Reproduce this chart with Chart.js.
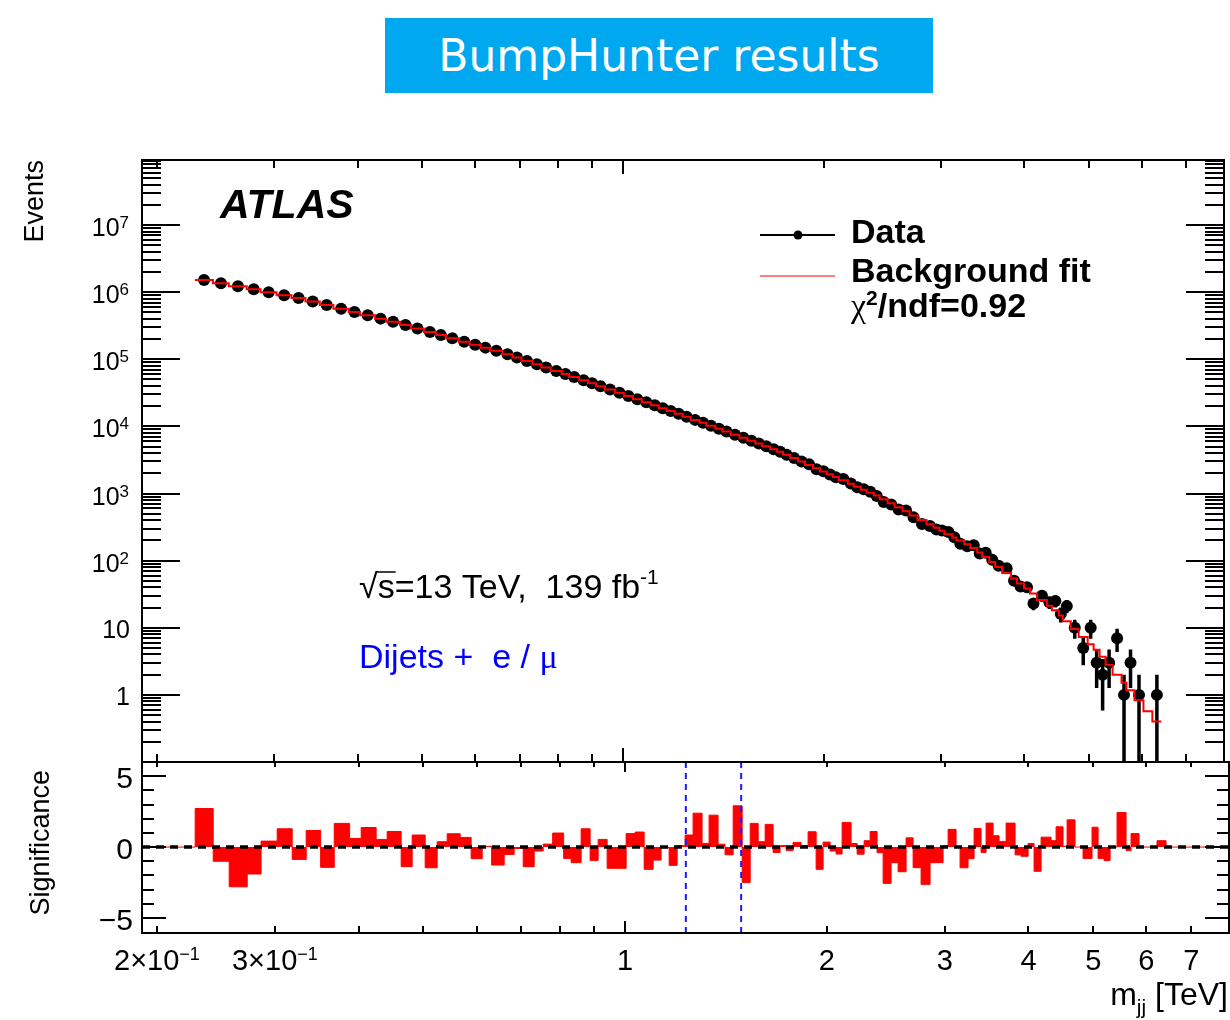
<!DOCTYPE html>
<html>
<head>
<meta charset="utf-8">
<script src="https://cdn.jsdelivr.net/npm/chart.js@4.4.1/dist/chart.umd.min.js"></script>
<style>
  html, body { margin: 0; padding: 0; background: #fff; }
  #page { position: relative; width: 1230px; height: 1020px; overflow: hidden; }
  #title { position: absolute; left: 385px; top: 18px; width: 548px; height: 75px; background: #00a8ef;
           color: #fff; font: 44px 'DejaVu Sans'; display: flex; align-items: center; justify-content: center; }
  canvas { position: absolute; left: 0; }
  #top { top: 100px; }
  #bottom { top: 750px; }
</style>
</head>
<body>
<div id="page">
  <div id="title">BumpHunter results</div>
  <canvas id="top" width="1230" height="680"></canvas>
  <canvas id="bottom" width="1230" height="270"></canvas>
</div>
<script>
// m_jj bin edges [TeV]
const binEdges = [
  0.2281, 0.2427, 0.2564, 0.2728, 0.2861, 0.3024, 0.3184, 0.3341, 0.3511, 0.3679,
  0.3879, 0.4036, 0.4249, 0.4413, 0.4631, 0.4809, 0.5029, 0.5241, 0.5424, 0.5672,
  0.5890, 0.6118, 0.6320, 0.6598, 0.6828, 0.7044, 0.7315, 0.7545, 0.7795, 0.8095,
  0.8306, 0.8596, 0.8866, 0.9114, 0.9400, 0.9729, 1.0034, 1.0349, 1.0675, 1.1010,
  1.1315, 1.1633, 1.1957, 1.2289, 1.2631, 1.3026, 1.3345, 1.3763, 1.4097, 1.4497,
  1.4952, 1.5370, 1.5798, 1.6181, 1.6630, 1.7034, 1.7390, 1.7812, 1.8309, 1.8755,
  1.9280, 1.9748, 2.0230, 2.0650, 2.1081, 2.1744, 2.2198, 2.2738, 2.3213, 2.3775,
  2.4273, 2.4946, 2.5556, 2.6267, 2.6909, 2.7657, 2.8524, 2.9222, 2.9828, 3.0347,
  3.1190, 3.1623, 3.2502, 3.3183, 3.3988, 3.4581, 3.5425, 3.6160, 3.7044, 3.8206,
  3.8999, 3.9953, 4.0781, 4.1777, 4.3236, 4.3988, 4.5054, 4.5680, 4.6948, 4.8259,
  4.9774, 5.0816, 5.1869, 5.2955, 5.4240, 5.5948, 5.6916, 5.8507, 6.0347, 6.2230,
  6.4193
];

// observed events per bin (null = empty bin)
const dataEvents = [
  1520000, 1360000, 1220000, 1100000, 995000, 900000, 818000, 727000, 644000, 566000,
  507000, 451000, 403000, 362000, 324000, 288000, 255000, 230000, 206000, 183000,
  165000, 149000, 134000, 119000, 106000, 94500, 84100, 75300, 67100, 60400,
  54500, 48600, 43900, 39600, 35400, 31600, 28300, 25400, 22800, 20600,
  18700, 17000, 15400, 13900, 12500, 11300, 10200, 9220, 8390, 7530,
  6760, 6110, 5550, 5050, 4580, 4200, 3765, 3389, 3005, 2726,
  2303, 2146, 1918, 1739, 1639, 1409, 1242, 1155, 1065, 921,
  747, 685, 579, 557, 441, 351, 327, 290, 281, 268,
  223, 178, 164, 170, 128, 131, 103, 84, 77, 50,
  41, 40, 23, 30, 24, 25, 16, 21, 10, 5,
  10, 3, 2, 3, 7, 1, 3, 1, null, 1
];

// background fit per bin
const bkgFit = [
  1520000, 1360000, 1220000, 1100000, 995000, 900000, 818000, 727000, 644000, 566000,
  507000, 451000, 403000, 362000, 324000, 288000, 255000, 230000, 206000, 183000,
  165000, 149000, 134000, 119000, 106000, 94500, 84100, 75300, 67100, 60400,
  54500, 48600, 43900, 39600, 35400, 31600, 28300, 25400, 22800, 20600,
  18700, 17000, 15400, 13900, 12500, 11300, 10200, 9220, 8390, 7530,
  6760, 6110, 5550, 5050, 4580, 4190, 3780, 3370, 3000, 2670,
  2380, 2130, 1930, 1760, 1570, 1400, 1260, 1140, 1030, 933,
  820, 714, 622, 542, 472, 404, 348, 309, 279, 248,
  222, 199, 175, 154, 132, 113, 95.5, 80.7, 65.6, 54,
  45.6, 38.5, 32.5, 25.9, 21.3, 18.2, 15.2, 12.5, 9.6, 7.3,
  5.7, 4.7, 3.7, 2.8, 2.0, 1.52, 1.17, 0.83, 0.57, 0.40
];

// significance per bin
const significance = [
  2.72, -1.0, -2.8, -1.9, 0.42, 1.29, -0.87, 1.17, -1.43, 1.67,
  0.61, 1.38, 0.54, 1.1, -1.38, 0.85, -1.46, 0.38, 0.94, 0.68,
  -0.82, 0.05, -1.27, -0.52, -0.1, -1.38, -0.28, 0.21, 0.99, -0.8,
  -1.1, 1.29, -0.94, 0.54, -1.5, -1.5, 0.95, 1.06, -1.57, -0.92,
  -0.05, -1.29, 0.1, 0.85, 2.39, 0.26, 2.25, 0.2, -0.54, 2.91,
  -2.49, 1.67, 0.38, 1.6, -0.38, 0.1, -0.25, 0.33, 0.1, 1.08,
  -1.57, 0.35, -0.28, -0.49, 1.74, 0.25, -0.5, 0.45, 1.1, -0.4,
  -2.56, -1.1, -1.74, 0.65, -1.45, -2.63, -1.1, -1.1, 0.1, 1.25,
  0.05, -1.46, -0.82, 1.31, -0.38, 1.69, 0.8, 0.4, 1.69, -0.55,
  -0.65, 0.25, -1.71, 0.7, 0.45, 1.43, 0.05, 1.92, 0, -0.8,
  1.4, -0.8, -0.95, 0, 2.44, -0.25, 0.95, 0, 0, 0.45
];

// most discrepant interval found by BumpHunter [TeV]
const bumpWindow = [1.232, 1.490];

// axis ticks and labels
const xTicks = [0.2, 0.3, 0.4, 0.5, 0.6, 0.7, 0.8, 0.9, 1, 2, 3, 4, 5, 6, 7];
const xTickLabels = [[0.2, '2×10', '\u22121'], [0.3, '3×10', '\u22121'], [1, '1'], [2, '2'],
                     [3, '3'], [4, '4'], [5, '5'], [6, '6'], [7, '7']];
const yDecades = [1, 10, 1e2, 1e3, 1e4, 1e5, 1e6, 1e7];
const sigTickLabels = [5, 0, -5];

const X_MIN = 0.19, X_MAX = 7.97;
const Y_MIN = 0.1, Y_MAX = 9.3e7;
const SIG_MIN = -6.06, SIG_MAX = 6.0;
const SANS = 'Liberation Sans', SERIF = 'Liberation Serif';

// ---- datasets built from the arrays ----
const last = binEdges.length - 1;
const centers = significance.map((s, i) => (binEdges[i] + binEdges[i + 1]) / 2);

const fitSteps = bkgFit.map((v, i) => ({x: binEdges[i], y: v}));
fitSteps.push({x: binEdges[last], y: bkgFit[bkgFit.length - 1]});

const points = [], errBars = [];
dataEvents.forEach((n, i) => {
  if (!n) return;
  const e = Math.sqrt(n);
  points.push({x: centers[i], y: n});
  errBars.push({x: centers[i], y: Math.max(n - e, 0.01)}, {x: centers[i], y: n + e}, {x: centers[i], y: null});
});

const sigSteps = [{x: X_MIN, y: 0}];
significance.forEach((s, i) => sigSteps.push({x: binEdges[i], y: s}));
sigSteps.push({x: binEdges[last], y: 0}, {x: X_MAX, y: 0});

const windowLines = [];
bumpWindow.forEach(b => windowLines.push({x: b, y: SIG_MIN}, {x: b, y: SIG_MAX}, {x: b, y: null}));

// ---- drawing helpers ----
function seg(ctx, x1, y1, x2, y2) {
  ctx.beginPath(); ctx.moveTo(x1, y1); ctx.lineTo(x2, y2); ctx.stroke();
}
// pieces: [text, font, dy]
function run(ctx, pieces, x, y, align, color) {
  let w = 0;
  pieces.forEach(p => { ctx.font = p[1]; w += ctx.measureText(p[0]).width; });
  let cx = align === 'center' ? x - w / 2 : align === 'right' ? x - w : x;
  ctx.textAlign = 'left'; ctx.textBaseline = 'alphabetic'; ctx.fillStyle = color || '#000';
  pieces.forEach(p => {
    ctx.font = p[1]; ctx.fillText(p[0], cx, y + (p[2] || 0));
    cx += ctx.measureText(p[0]).width;
  });
  return w;
}
function vtitle(ctx, s, x, y, font) {
  ctx.save(); ctx.translate(x, y); ctx.rotate(-Math.PI / 2);
  ctx.font = font; ctx.fillStyle = '#000'; ctx.textAlign = 'right'; ctx.textBaseline = 'alphabetic';
  ctx.fillText(s, 0, 0); ctx.restore();
}
function xTicksDraw(ctx, a, xs, topLen, botLen) {
  xTicks.forEach(v => {
    const px = Math.round(xs.getPixelForValue(v));
    seg(ctx, px, a.top, px, a.top + topLen(v));
    seg(ctx, px, a.bottom - botLen(v), px, a.bottom);
  });
}

const topDecor = {
  id: 'topDecor',
  afterDraw(chart) {
    const {ctx, chartArea: a, scales: {x, y}} = chart;
    ctx.save();
    ctx.strokeStyle = '#000'; ctx.lineWidth = 2;
    for (let k = -1; k <= 7; k++) {
      for (let d = 1; d <= 9; d++) {
        const v = d * Math.pow(10, k);
        if (v < Y_MIN || v > Y_MAX) continue;
        const py = Math.round(y.getPixelForValue(v));
        const len = d === 1 ? 38 : 19;
        seg(ctx, a.left, py, a.left + len, py);
        seg(ctx, a.right - len, py, a.right, py);
      }
    }
    xTicksDraw(ctx, a, x, v => v === 1 ? 14 : 8, v => v === 1 ? 14 : 8);
    ctx.strokeRect(a.left, a.top, a.right - a.left, a.bottom - a.top);

    // y tick labels
    yDecades.forEach(v => {
      const py = y.getPixelForValue(v);
      const k = Math.round(Math.log10(v));
      if (k >= 2) run(ctx, [['10', '25px ' + SANS], [String(k), '17px ' + SANS, -8]], 129, py + 11, 'right');
      else run(ctx, [[k === 1 ? '10' : '1', '25px ' + SANS]], 130, py + 10, 'right');
    });
    vtitle(ctx, 'Events', 43, a.top, '27px ' + SANS);

    run(ctx, [['ATLAS', 'italic bold 41px ' + SANS]], 220, 118, 'left');

    // legend
    ctx.lineWidth = 2; ctx.strokeStyle = '#000';
    seg(ctx, 760, 135, 835, 135);
    ctx.beginPath(); ctx.arc(798, 135, 4.5, 0, 2 * Math.PI); ctx.fillStyle = '#000'; ctx.fill();
    ctx.lineWidth = 1.2; ctx.strokeStyle = '#ff0000';
    seg(ctx, 760, 176, 835, 176);
    run(ctx, [['Data', 'bold 34px ' + SANS]], 851, 143, 'left');
    run(ctx, [['Background fit', 'bold 34px ' + SANS]], 851, 182, 'left');
    run(ctx, [['\u03c7', '34px ' + SERIF], ['2', 'bold 21px ' + SANS, -12], ['/ndf=0.92', 'bold 34px ' + SANS]], 851, 217, 'left');

    // sqrt(s) and luminosity
    ctx.font = '34px ' + SANS;
    const wr = ctx.measureText('\u221a').width;
    const ws = ctx.measureText('s').width;
    run(ctx, [['\u221a', '34px ' + SANS], ['s=13 TeV,  139 fb', '34px ' + SANS], ['-1', '21px ' + SANS, -14]], 359, 498, 'left');
    ctx.lineWidth = 1.5; ctx.strokeStyle = '#000';
    seg(ctx, 359 + wr - 1, 472, 359 + wr + ws + 1, 472);

    run(ctx, [['Dijets +  e / ', '34px ' + SANS], ['\u03bc', '34px ' + SERIF]], 359, 568, 'left', '#0000ff');
    ctx.restore();
  }
};

const bottomDecor = {
  id: 'bottomDecor',
  afterDraw(chart) {
    const {ctx, chartArea: a, scales: {x, y}} = chart;
    ctx.save();
    ctx.strokeStyle = '#000'; ctx.lineWidth = 2;
    for (let v = -5; v <= 5; v++) {
      const py = Math.round(y.getPixelForValue(v));
      const len = v % 5 === 0 ? 24 : 12;
      seg(ctx, a.left, py, a.left + len, py);
      seg(ctx, a.right - len, py, a.right, py);
    }
    xTicksDraw(ctx, a, x, v => v === 1 ? 10 : 5, v => v === 1 ? 12 : 7);
    ctx.strokeRect(a.left, a.top, a.right - a.left, a.bottom - a.top);

    sigTickLabels.forEach(v => {
      const py = y.getPixelForValue(v);
      run(ctx, [[v < 0 ? '\u2212' + (-v) : String(v), '30px ' + SANS]], 133, py + 12, 'right');
    });
    xTickLabels.forEach(t => {
      const px = x.getPixelForValue(t[0]);
      const pieces = [[t[1], '29px ' + SANS]];
      if (t[2]) pieces.push([t[2], '18px ' + SANS, -10]);
      run(ctx, pieces, px, 220, 'center');
    });
    vtitle(ctx, 'Significance', 49, 20, '27px ' + SANS);
    run(ctx, [['m', '32px ' + SANS], ['jj', '21px ' + SANS, 9], [' [TeV]', '32px ' + SANS]], 1228, 255, 'right');
    ctx.restore();
  }
};

const common = {
  responsive: false, animation: false, events: [],
  plugins: {legend: {display: false}, tooltip: {enabled: false}}
};

new Chart(document.getElementById('top'), {
  type: 'line',
  data: {
    datasets: [
      {data: fitSteps, stepped: true, borderColor: '#ff0000', borderWidth: 2, pointRadius: 0, fill: false},
      {data: points, showLine: false, pointRadius: 6, pointBackgroundColor: '#000', pointBorderWidth: 0},
      {data: errBars, borderColor: '#000', borderWidth: 3.5, pointRadius: 0, fill: false, spanGaps: false}
    ]
  },
  options: Object.assign({}, common, {
    layout: {padding: {left: 142, right: 1, top: 60, bottom: 18}},
    scales: {
      x: {type: 'logarithmic', min: X_MIN, max: X_MAX, display: false},
      y: {type: 'logarithmic', min: Y_MIN, max: Y_MAX, display: false}
    }
  }),
  plugins: [topDecor]
});

new Chart(document.getElementById('bottom'), {
  type: 'line',
  data: {
    datasets: [
      {data: [{x: X_MIN, y: 0}, {x: X_MAX, y: 0}], borderColor: '#000', borderWidth: 3.5, borderDash: [8, 6], pointRadius: 0, fill: false},
      {data: windowLines, borderColor: '#1a1aff', borderWidth: 2, borderDash: [6, 5], pointRadius: 0, fill: false, spanGaps: false},
      {data: sigSteps, stepped: true, fill: 'origin', backgroundColor: '#ff0000', borderColor: '#ff0000', borderWidth: 1, pointRadius: 0}
    ]
  },
  options: Object.assign({}, common, {
    layout: {padding: {left: 142, right: 1, top: 12, bottom: 87}},
    scales: {
      x: {type: 'logarithmic', min: X_MIN, max: X_MAX, display: false},
      y: {type: 'linear', min: SIG_MIN, max: SIG_MAX, display: false}
    }
  }),
  plugins: [bottomDecor]
});
</script>
</body>
</html>
